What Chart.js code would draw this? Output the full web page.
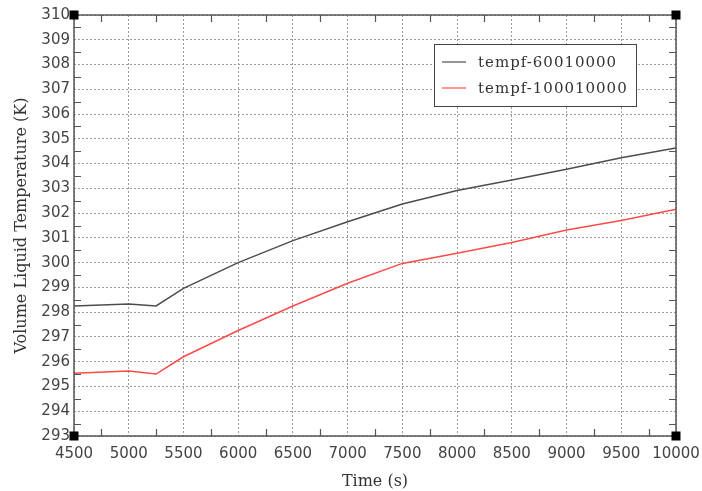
<!DOCTYPE html>
<html>
<head>
<meta charset="utf-8">
<script src="https://cdn.jsdelivr.net/npm/chart.js@4.4.1/dist/chart.umd.min.js"></script>
<style>
  html, body { margin: 0; padding: 0; background: #ffffff; }
  #wrap { width: 702px; height: 491px; }
</style>
</head>
<body>
<div id="wrap"><canvas id="tempChart" width="702" height="491"></canvas></div>
<script>
// time in seconds
const tempos = [4500, 5000, 5250, 5500, 6000, 6500, 7000, 7500, 8000, 8500, 9000, 9500, 10000];
// volume liquid temperature (K)
const tempf600 = [298.25, 298.33, 298.25, 298.96, 300.0, 300.89, 301.65, 302.37, 302.91, 303.34, 303.77, 304.24, 304.63];
const tempf1000 = [295.53, 295.62, 295.5, 296.2, 297.26, 298.25, 299.17, 299.97, 300.38, 300.81, 301.32, 301.70, 302.16];
const nomes = ['tempf-60010000', 'tempf-100010000'];
const cores = ['#4d4d4d', '#ff4a4a'];

const eixoCor = '#555555';

// moldura, tracinhos menores, quadrados nos cantos e legenda
const molduraPlugin = {
    id: 'moldura',
    afterDraw(chart) {
        const ctx = chart.ctx;
        const a = chart.chartArea;
        const sx = chart.scales.x;
        const sy = chart.scales.y;
        ctx.save();
        ctx.strokeStyle = eixoCor;
        ctx.lineWidth = 1.5;
        ctx.strokeRect(a.left, a.top, a.right - a.left, a.bottom - a.top);

        ctx.lineWidth = 1.2;
        ctx.beginPath();
        for (let t = 4750; t < 10000; t += 500) {
            const px = Math.round(sx.getPixelForValue(t)) + 0.5;
            ctx.moveTo(px, a.bottom); ctx.lineTo(px, a.bottom - 7);
            ctx.moveTo(px, a.top); ctx.lineTo(px, a.top + 7);
        }
        for (let v = 293.5; v < 310; v += 1) {
            const py = Math.round(sy.getPixelForValue(v)) + 0.5;
            ctx.moveTo(a.left, py); ctx.lineTo(a.left + 7, py);
            ctx.moveTo(a.right, py); ctx.lineTo(a.right - 7, py);
        }
        ctx.stroke();

        ctx.fillStyle = '#000000';
        [[a.left, a.top], [a.right, a.top], [a.left, a.bottom], [a.right, a.bottom]].forEach(p => {
            ctx.fillRect(p[0] - 4.5, p[1] - 4.5, 9, 9);
        });

        // legenda
        const lx = 434, ly = a.top + 29, lw = 202, lh = 62;
        ctx.fillStyle = '#ffffff';
        ctx.fillRect(lx, ly, lw, lh);
        ctx.strokeStyle = '#444444';
        ctx.lineWidth = 1;
        ctx.strokeRect(lx + 0.5, ly + 0.5, lw, lh);
        ctx.font = '15px "DejaVu Serif"';
        ctx.letterSpacing = '1px';
        ctx.textBaseline = 'middle';
        chart.data.datasets.forEach((ds, i) => {
            const yy = ly + 18 + i * 26;
            ctx.strokeStyle = ds.borderColor;
            ctx.lineWidth = 1.2;
            ctx.beginPath();
            ctx.moveTo(lx + 8, yy); ctx.lineTo(lx + 32, yy);
            ctx.stroke();
            ctx.fillStyle = '#333333';
            ctx.fillText(ds.label, lx + 44, yy + 1);
        });
        ctx.restore();
    }
};

const ctx = document.getElementById('tempChart').getContext('2d');
new Chart(ctx, {
    type: 'line',
    data: {
        labels: tempos,
        datasets: [
            {
                label: nomes[0],
                data: tempos.map((t, i) => ({ x: t, y: tempf600[i] })),
                borderColor: cores[0],
                borderWidth: 1.5,
                pointRadius: 0,
                tension: 0,
                fill: false
            },
            {
                label: nomes[1],
                data: tempos.map((t, i) => ({ x: t, y: tempf1000[i] })),
                borderColor: cores[1],
                borderWidth: 1.5,
                pointRadius: 0,
                tension: 0,
                fill: false
            }
        ]
    },
    options: {
        responsive: false,
        animation: false,
        layout: { padding: { top: 15, right: 26, left: 12, bottom: 0 } },
        plugins: {
            legend: { display: false },
            tooltip: { enabled: false }
        },
        scales: {
            x: {
                type: 'linear',
                min: 4500,
                max: 10000,
                ticks: {
                    stepSize: 500,
                    padding: 9,
                    color: '#444444',
                    font: { family: '"DejaVu Sans"', size: 15 },
                    callback: v => String(v)
                },
                grid: { color: '#9a9a9a', lineWidth: 1, drawTicks: false },
                border: { display: false, dash: [2, 2] },
                title: {
                    display: true,
                    text: 'Time (s)',
                    color: '#333333',
                    font: { family: '"DejaVu Serif"', size: 16 },
                    padding: { top: 0, bottom: 0 }
                },
                afterFit: s => { s.height = 55; s.paddingLeft = 0; s.paddingRight = 0; }
            },
            y: {
                type: 'linear',
                min: 293,
                max: 310,
                ticks: {
                    stepSize: 1,
                    padding: 4,
                    color: '#444444',
                    font: { family: '"DejaVu Sans"', size: 15 }
                },
                grid: { color: '#9a9a9a', lineWidth: 1, drawTicks: false },
                border: { display: false, dash: [2, 2] },
                title: {
                    display: true,
                    text: 'Volume Liquid Temperature (K)',
                    color: '#333333',
                    font: { family: '"DejaVu Serif"', size: 16 },
                    padding: { top: 0, bottom: 2 }
                },
                afterFit: s => { s.width = 62; s.paddingTop = 0; s.paddingBottom = 0; }
            }
        }
    },
    plugins: [molduraPlugin]
});
</script>
</body>
</html>
